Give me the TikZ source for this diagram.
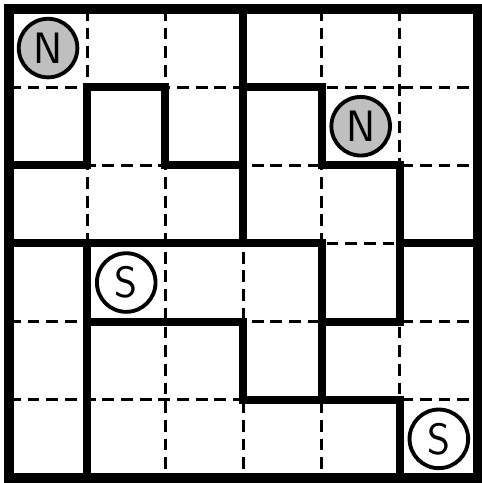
\documentclass[tikz,border=0pt]{standalone}
\usepackage{tikz}
\usetikzlibrary{positioning}

\begin{document}
\begin{tikzpicture}[
    thin line/.style={line width=1.1pt, dash pattern=on 4.3pt off 2.5pt},
    wall/.style={line width=2.9pt, line cap=rect, line join=miter},
    pole/.style={circle, draw, line width=1.4pt, minimum size=0.75cm, inner sep=0pt,
        font=\sffamily\fontsize{16}{16}\selectfont},
    npole/.style={pole, fill=black!25},
    spole/.style={pole, fill=white}
]
    \useasboundingbox (-0.115,0.115) rectangle (6.04,-6.065);
    \foreach \i in {1,...,5} {
        \draw[thin line] (\i,0) -- (\i,-6);
        \draw[thin line] (0,-\i) -- (6,-\i);
    }
    \draw[wall] (0,-2) -- (1,-2) -- (1,-1) -- (2,-1) -- (2,-2) -- (3,-2);
    \draw[wall] (3,0) -- (3,-3);
    \draw[wall] (0,-3) -- (4,-3);
    \draw[wall] (3,-1) -- (4,-1) -- (4,-2) -- (5,-2) -- (5,-4) -- (4,-4);
    \draw[wall] (5,-3) -- (6,-3);
    \draw[wall] (4,-3) -- (4,-5);
    \draw[wall] (1,-3) -- (1,-6);
    \draw[wall] (1,-4) -- (3,-4) -- (3,-5) -- (5,-5) -- (5,-6);
    \draw[line width=3.6pt] (0,0) rectangle (6,-6);
    \node[npole] (northA) at (0.5,-0.5) {N};
    \node[npole] (northB) at (4.5,-1.5) {N};
    \node[spole] (southA) at (1.5,-3.5) {S};
    \node[spole] (southB) at (5.5,-5.5) {S};
\end{tikzpicture}
\end{document}
